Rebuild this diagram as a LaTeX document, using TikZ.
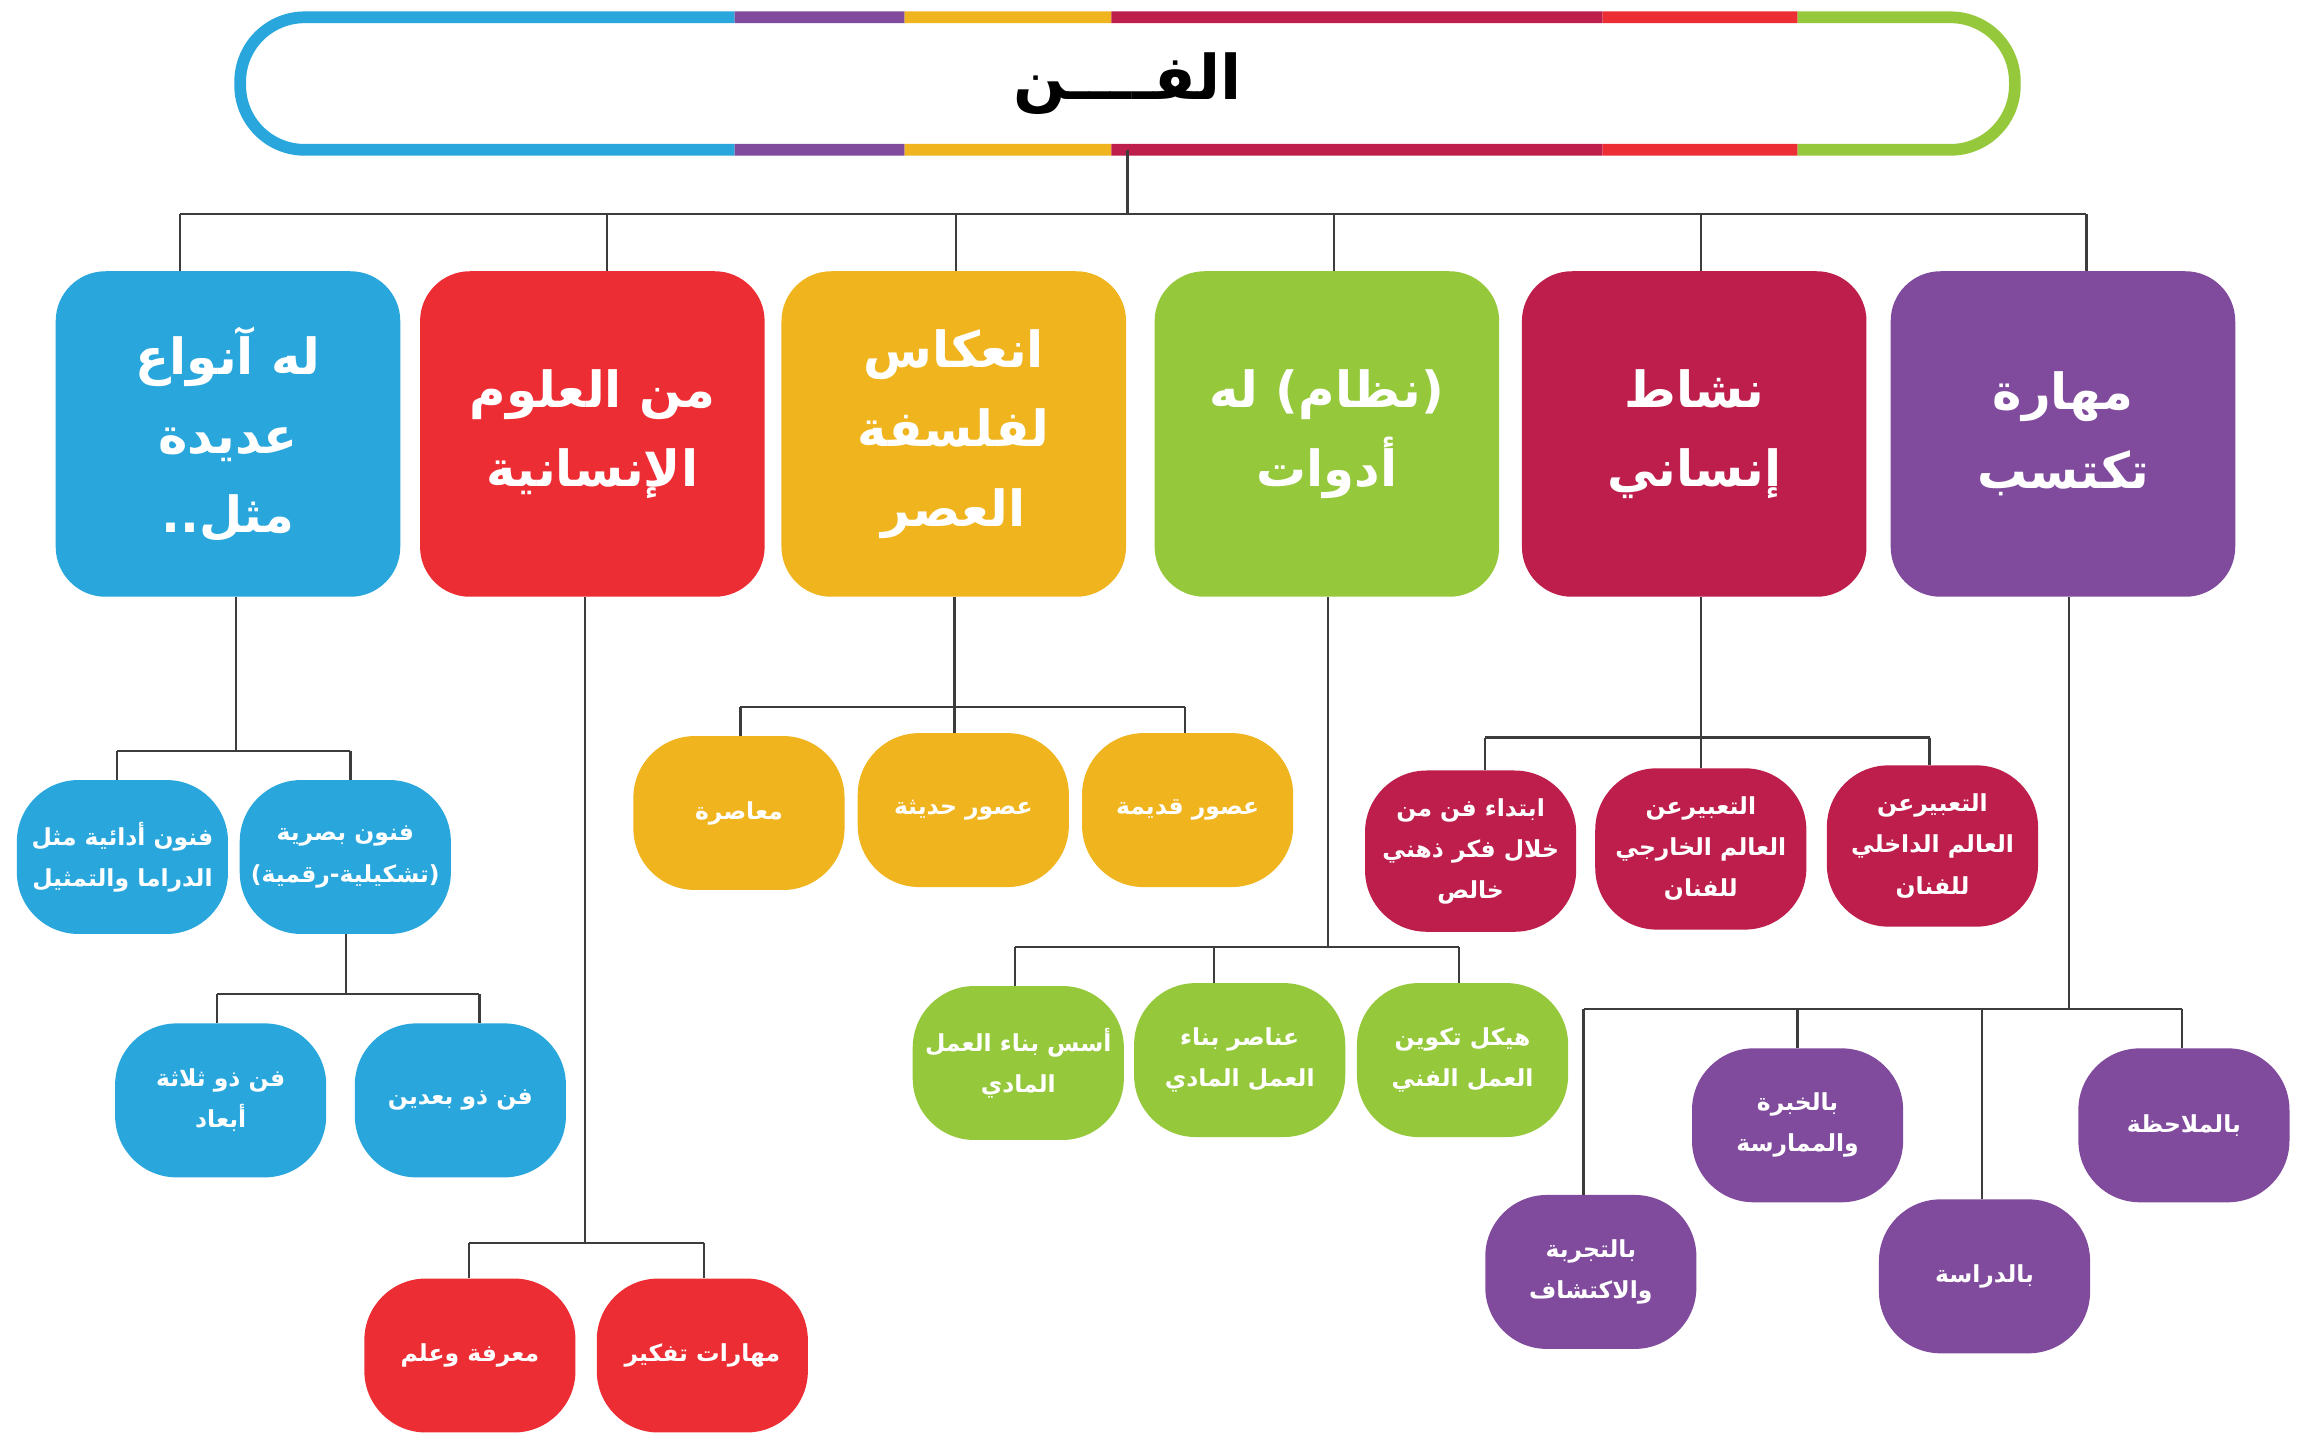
\documentclass[tikz,border=0pt]{standalone}
\usepackage{fontspec}
\TeXXeTstate=1
\newfontfamily\arabicfont[Script=Arabic]{DejaVu Sans}
\newcommand\ar[1]{\beginR #1\endR}
\definecolor{cblue}{RGB}{41,167,221}
\definecolor{cred}{RGB}{237,45,52}
\definecolor{cyellow}{RGB}{239,180,30}
\definecolor{cgreen}{RGB}{150,200,60}
\definecolor{ccrimson}{RGB}{190,30,75}
\definecolor{cpurple}{RGB}{128,74,157}
\definecolor{linec}{RGB}{60,60,60}
\begin{document}
\begin{tikzpicture}[x=1pt,y=-1pt,
  conn/.style={draw=linec, line width=1.5pt},
  cat/.style={rounded corners=34pt, minimum width=235pt, minimum height=222pt, inner sep=0pt,
    text=white, align=center, font=\arabicfont\bfseries\fontsize{34}{54}\selectfont},
  sub/.style={rounded corners=42pt, minimum width=144pt, minimum height=105pt, inner sep=0pt,
    text=white, align=center, font=\arabicfont\bfseries\fontsize{16}{28}\selectfont}]
\useasboundingbox[fill=white] (0,0) rectangle (1568,982);

% top title
\node[fill=white, rounded corners=44pt, minimum width=1210pt, minimum height=90pt, inner sep=0pt,
  font=\arabicfont\bfseries\fontsize{42}{48}\selectfont, text=black] (top) at (769,57) {\ar{الفــــن}};
\foreach \xa/\xb/\col in {0/501/cblue, 501/617/cpurple, 617/758/cyellow, 758/1093/ccrimson, 1093/1226/cred, 1226/1568/cgreen}{
  \begin{scope}
    \clip (\xa,0) rectangle (\xb,120);
    \draw[\col, line width=8pt, rounded corners=44pt] (top.north west) rectangle (top.south east);
  \end{scope}
}

% categories
\node[cat, fill=cblue]    (c1) at (155.5,296) {\ar{له آنواع}\\\ar{عديدة}\\\ar{مثل..}};
\node[cat, fill=cred]     (c2) at (404,296) {\ar{من العلوم}\\\ar{الإنسانية}};
\node[cat, fill=cyellow]  (c3) at (650.5,296) {\ar{انعكاس}\\\ar{لفلسفة}\\\ar{العصر}};
\node[cat, fill=cgreen]   (c4) at (905,296) {\ar{(نظام) له}\\\ar{أدوات}};
\node[cat, fill=ccrimson] (c5) at (1155.5,296) {\ar{نشاط}\\\ar{إنساني}};
\node[cat, fill=cpurple]  (c6) at (1407,296) {\ar{مهارة}\\\ar{تكتسب}};

% top connectors
\coordinate (tb) at (769,146);
\coordinate (d1) at (123,146);
\coordinate (d2) at (414,146);
\coordinate (d3) at (652,146);
\coordinate (d4) at (910,146);
\coordinate (d5) at (1160,146);
\coordinate (d6) at (1423,146);
\draw[conn] (top.south) -- (tb);
\draw[conn] (d1) -- (d6);
\foreach \i in {1,...,6}{ \draw[conn] (d\i) -- (d\i |- c\i.north); }

% blue subtree
\node[sub, fill=cblue] (b1) at (83.5,584.5) {\ar{فنون أدائية مثل}\\\ar{الدراما والتمثيل}};
\node[sub, fill=cblue] (b2) at (235.5,584.5) {\ar{فنون بصرية}\\\ar{(تشكيلية-رقمية)}};
\node[sub, fill=cblue] (b3) at (150.5,750.5) {\ar{فن ذو ثلاثة}\\\ar{أبعاد}};
\node[sub, fill=cblue] (b4) at (314,750.5) {\ar{فن ذو بعدين}};
\coordinate (bj) at (161,512);
\coordinate (bl) at (80,512);
\coordinate (br) at (239,512);
\draw[conn] (c1.south -| bj) -- (bj);
\draw[conn] (bl) -- (br);
\draw[conn] (bl) -- (bl |- b1.north);
\draw[conn] (br) -- (br |- b2.north);
\coordinate (bj2) at (236,678);
\coordinate (bl2) at (148,678);
\coordinate (br2) at (327,678);
\draw[conn] (b2.south -| bj2) -- (bj2);
\draw[conn] (bl2) -- (br2);
\draw[conn] (bl2) -- (bl2 |- b3.north);
\draw[conn] (br2) -- (br2 |- b4.north);

% red subtree
\node[sub, fill=cred] (r1) at (320.5,924.5) {\ar{معرفة وعلم}};
\node[sub, fill=cred] (r2) at (479,924.5) {\ar{مهارات تفكير}};
\coordinate (rj) at (399,848);
\coordinate (rl) at (320,848);
\coordinate (rr) at (480,848);
\draw[conn] (c2.south -| rj) -- (rj);
\draw[conn] (rl) -- (rr);
\draw[conn] (rl) -- (rl |- r1.north);
\draw[conn] (rr) -- (rr |- r2.north);

% yellow subtree
\node[sub, fill=cyellow] (y1) at (504,554.5) {\ar{معاصرة}};
\node[sub, fill=cyellow] (y2) at (657,552.5) {\ar{عصور حديثة}};
\node[sub, fill=cyellow] (y3) at (810,552.5) {\ar{عصور قديمة}};
\coordinate (yj) at (651,482);
\coordinate (yl) at (505,482);
\coordinate (yr) at (808,482);
\draw[conn] (c3.south -| yj) -- (yj |- y2.north);
\draw[conn] (yl) -- (yr);
\draw[conn] (yl) -- (yl |- y1.north);
\draw[conn] (yr) -- (yr |- y3.north);

% green subtree
\node[sub, fill=cgreen] (g1) at (694.5,725) {\ar{أسس بناء العمل}\\\ar{المادي}};
\node[sub, fill=cgreen] (g2) at (845.5,723) {\ar{عناصر بناء}\\\ar{العمل المادي}};
\node[sub, fill=cgreen] (g3) at (997.5,723) {\ar{هيكل تكوين}\\\ar{العمل الفني}};
\coordinate (gj) at (906,646);
\coordinate (gl) at (692,646);
\coordinate (gm) at (828,646);
\coordinate (gr) at (995,646);
\draw[conn] (c4.south -| gj) -- (gj);
\draw[conn] (gl) -- (gr);
\draw[conn] (gl) -- (gl |- g1.north);
\draw[conn] (gm) -- (gm |- g2.north);
\draw[conn] (gr) -- (gr |- g3.north);

% crimson subtree
\node[sub, fill=ccrimson, minimum height=110pt] (k1) at (1003,580.5) {\ar{ابتداء فن من}\\\ar{خلال فكر ذهني}\\\ar{خالص}};
\node[sub, fill=ccrimson, minimum height=110pt] (k2) at (1160,579) {\ar{التعبيرعن}\\\ar{العالم الخارجي}\\\ar{للفنان}};
\node[sub, fill=ccrimson, minimum height=110pt] (k3) at (1318,577) {\ar{التعبيرعن}\\\ar{العالم الداخلي}\\\ar{للفنان}};
\coordinate (kj) at (1160,503);
\coordinate (kl) at (1013,503);
\coordinate (kr) at (1316,503);
\draw[conn] (c5.south -| kj) -- (kj |- k2.north);
\draw[conn] (kl) -- (kr);
\draw[conn] (kl) -- (kl |- k1.north);
\draw[conn] (kr) -- (kr |- k3.north);

% purple subtree
\node[sub, fill=cpurple] (p1) at (1489.5,767.5) {\ar{بالملاحظة}};
\node[sub, fill=cpurple] (p2) at (1226,767.5) {\ar{بالخبرة}\\\ar{والممارسة}};
\node[sub, fill=cpurple] (p3) at (1353.5,870.5) {\ar{بالدراسة}};
\node[sub, fill=cpurple] (p4) at (1085,867.5) {\ar{بالتجربة}\\\ar{والاكتشاف}};
\coordinate (pj) at (1411,688);
\coordinate (pa) at (1080,688);
\coordinate (pb) at (1226,688);
\coordinate (pc) at (1352,688);
\coordinate (pd) at (1488,688);
\draw[conn] (c6.south -| pj) -- (pj);
\draw[conn] (pa) -- (pd);
\draw[conn] (pa) -- (pa |- p4.north);
\draw[conn] (pb) -- (pb |- p2.north);
\draw[conn] (pc) -- (pc |- p3.north);
\draw[conn] (pd) -- (pd |- p1.north);
\end{tikzpicture}
\end{document}
